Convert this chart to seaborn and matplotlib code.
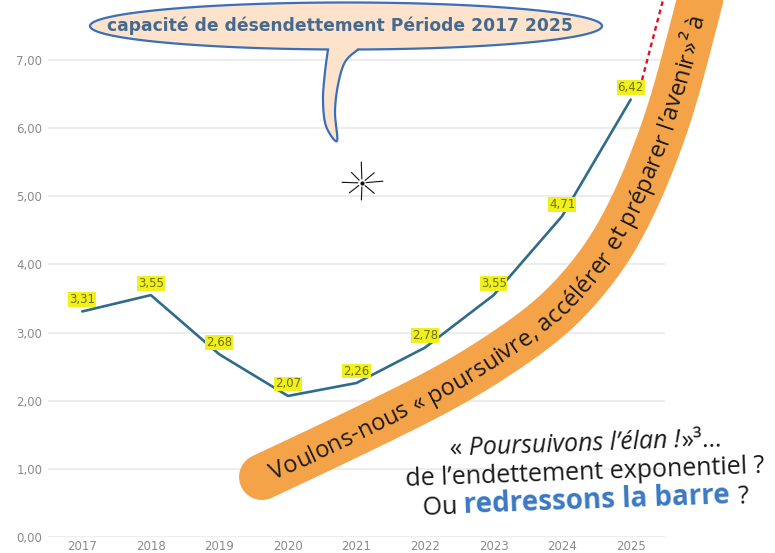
import numpy as np
import pandas as pd
import matplotlib
matplotlib.use("Agg")
import matplotlib.pyplot as plt
import seaborn as sns
from matplotlib.path import Path
from matplotlib.patches import PathPatch
from matplotlib.font_manager import FontProperties, findfont, get_font

# data
years = [2017, 2018, 2019, 2020, 2021, 2022, 2023, 2024, 2025]
ratio = [3.31, 3.55, 2.68, 2.07, 2.26, 2.78, 3.55, 4.71, 6.42]
y_ticks = [0, 1, 2, 3, 4, 5, 6, 7]

bubble_title = "capacité de désendettement Période 2017 2025"
band_text = "Voulons-nous « poursuivre, accélérer et préparer l’avenir»² à"

W, H = 775, 553
DPI = 100


def fr(v):
    return f"{v:.2f}".replace(".", ",")


def catmull(pts, n=40):
    pts = np.asarray(pts, float)
    p = np.vstack([pts[0], pts, pts[-1]])
    out = []
    for i in range(1, len(p) - 2):
        p0, p1, p2, p3 = p[i - 1], p[i], p[i + 1], p[i + 2]
        t = np.linspace(0, 1, n, endpoint=False)[:, None]
        seg = 0.5 * ((2 * p1) + (-p0 + p2) * t + (2 * p0 - 5 * p1 + 4 * p2 - p3) * t ** 2
                     + (-p0 + 3 * p1 - 3 * p2 + p3) * t ** 3)
        out.append(seg)
    out.append(pts[-1:])
    return np.vstack(out)


def smooth(curve, k=51):
    # moving average, ends extended linearly so the curve does not shrink
    pad = np.pad(curve, ((k, k), (0, 0)), mode="reflect", reflect_type="odd")
    ker = np.ones(k) / k
    xs = np.convolve(pad[:, 0], ker, mode="same")[k:-k]
    ys = np.convolve(pad[:, 1], ker, mode="same")[k:-k]
    return np.column_stack([xs, ys])


def advance(text, fp):
    font = get_font(findfont(fp))
    font.set_size(fp.get_size_in_points(), DPI)
    return [font.load_char(ord(c)).linearHoriAdvance / 65536 for c in text]


df = pd.DataFrame({"year": years, "ratio": ratio})

sns.set_style("white")
fig = plt.figure(figsize=(W / DPI, H / DPI), dpi=DPI)
ax = fig.add_axes([48 / W, 16 / H, 617 / W, 537 / H])

sns.lineplot(data=df, x="year", y="ratio", ax=ax, color="#2f6b8a", linewidth=1.9, zorder=3)

for x, y in zip(df["year"], df["ratio"]):
    ax.annotate(fr(y), (x, y), xytext=(0, 12), textcoords="offset pixels",
                ha="center", va="center", fontsize=8.5, color="#6e6e10", zorder=4,
                bbox=dict(boxstyle="square,pad=0.08", fc="#f0f01e", ec="none"))

ax.set_xlim(2016.5, 2025.5)
ax.set_ylim(0, 537 / 68.14)
ax.set_xticks(years)
ax.set_xticklabels([str(y) for y in years])
ax.set_yticks(y_ticks)
ax.set_yticklabels([fr(v) for v in y_ticks])
ax.tick_params(axis="both", length=0, labelsize=8.5, labelcolor="#8a8a8a")
ax.tick_params(axis="y", pad=4)
ax.tick_params(axis="x", pad=2)
ax.grid(axis="y", color="#e8e8e8", linewidth=1.1)
ax.set_xlabel("")
ax.set_ylabel("")
sns.despine(ax=ax, left=True, bottom=True)

# overlay in pixel coordinates (y downwards) for the decorations
ov = fig.add_axes([0, 0, 1, 1], zorder=5)
ov.set_xlim(0, W)
ov.set_ylim(H, 0)
ov.axis("off")
ov.patch.set_alpha(0)

# speech bubble
cx, cy, a, b = 346, 26, 256, 23.5
t0 = np.arccos((328 - cx) / a)
t1 = 2 * np.pi + np.arccos((358 - cx) / a)
ts = np.linspace(t0, t1, 240)
ell = np.column_stack([cx + a * np.cos(ts), cy + b * np.sin(ts)])
tail = catmull([(358, 49.5), (345, 62), (338, 85), (335, 112), (337, 141),
                (326, 126), (323, 100), (325, 72), (328, 49.5)], n=12)
verts = np.vstack([ell, tail])
bubble = PathPatch(Path(verts, closed=True), fc="#fde3cc", ec="#3a6fb7", lw=1.6, zorder=2)
ov.add_patch(bubble)
ov.text(340, 26, bubble_title, ha="center", va="center", fontsize=12.3, fontweight="bold",
        color="#46698f", zorder=3)

# sparkle
star = [(92, 21), (268, 17), (178, 20), (5, 21), (135, 15), (40, 16), (218, 16), (320, 16)]
for ang, r in star:
    th = np.radians(ang)
    ov.plot([362 + 4 * np.cos(th), 362 + r * np.cos(th)],
            [183 - 4 * np.sin(th), 183 - r * np.sin(th)], color="#111111", lw=0.8, zorder=3)
ov.plot([362], [183], "o", ms=2, color="#111111", zorder=3)

# red dotted extension
ov.plot([642, 663], [80, 0], color="#e3101c", lw=1.7, linestyle=(0, (2, 1.6)), zorder=3)

# orange curved band, guide points along its centre line
centre = smooth(catmull([(262, 477), (330, 445), (400, 411), (465, 377), (530, 334),
                         (567, 302), (600, 263), (625, 222), (648, 172), (668, 118),
                         (683, 66), (700, 0), (712, -45)], n=40))
ov.plot(centre[:, 0], centre[:, 1], color="#f4a348", lw=46 * 72 / DPI,
        solid_capstyle="round", zorder=2)

seg = np.hypot(np.diff(centre[:, 0]), np.diff(centre[:, 1]))
arc = np.concatenate([[0], np.cumsum(seg)])


def at(s):
    x = np.interp(s, arc, centre[:, 0])
    y = np.interp(s, arc, centre[:, 1])
    x2 = np.interp(s + 4, arc, centre[:, 0])
    y2 = np.interp(s + 4, arc, centre[:, 1])
    x1 = np.interp(s - 4, arc, centre[:, 0])
    y1 = np.interp(s - 4, arc, centre[:, 1])
    d = np.hypot(x2 - x1, y2 - y1)
    return x, y, (x2 - x1) / d, (y2 - y1) / d


band_size = 17
fp_band = FontProperties(family="Open Sans", size=band_size)
em = band_size * DPI / 72
s = 10.0
for ch, adv in zip(band_text, advance(band_text, fp_band)):
    x, y, tx, ty = at(s + adv / 2)
    ux, uy = ty, -tx
    bx, by = x - ux * 0.33 * em, y - uy * 0.33 * em
    if ch != " ":
        ov.text(bx, by, ch, fontproperties=fp_band, color="#1a1a1a",
                rotation=np.degrees(np.arctan2(-ty, tx)), rotation_mode="anchor",
                ha="center", va="baseline", zorder=4)
    s += adv

# slogan at bottom right
fp_reg = FontProperties(family="Open Sans", size=18)
fp_it = FontProperties(family="Open Sans", style="italic", size=18)
fp_bold = FontProperties(family="Open Sans", weight="bold", size=20)
lines = [
    (451, [("« ", fp_reg, "#1a1a1a"), ("Poursuivons l’élan !", fp_it, "#1a1a1a"),
           ("»³…", fp_reg, "#1a1a1a")]),
    (479, [("de l’endettement exponentiel ?", fp_reg, "#1a1a1a")]),
    (509, [("Ou ", fp_reg, "#1a1a1a"), ("redressons la barre", fp_bold, "#3b78c3"),
           (" ?", fp_reg, "#1a1a1a")]),
]
rot = 2.1
dx, dy = np.cos(np.radians(rot)), -np.sin(np.radians(rot))
for base_y, runs in lines:
    widths = [sum(advance(t, f)) for t, f, c in runs]
    x, y = 586 - dx * sum(widths) / 2, base_y - dy * sum(widths) / 2
    for (t, f, c), w in zip(runs, widths):
        ov.text(x, y, t, fontproperties=f, color=c, rotation=rot, rotation_mode="anchor",
                ha="left", va="baseline", zorder=4)
        x, y = x + dx * w, y + dy * w

fig.savefig("out.png", dpi=DPI)
